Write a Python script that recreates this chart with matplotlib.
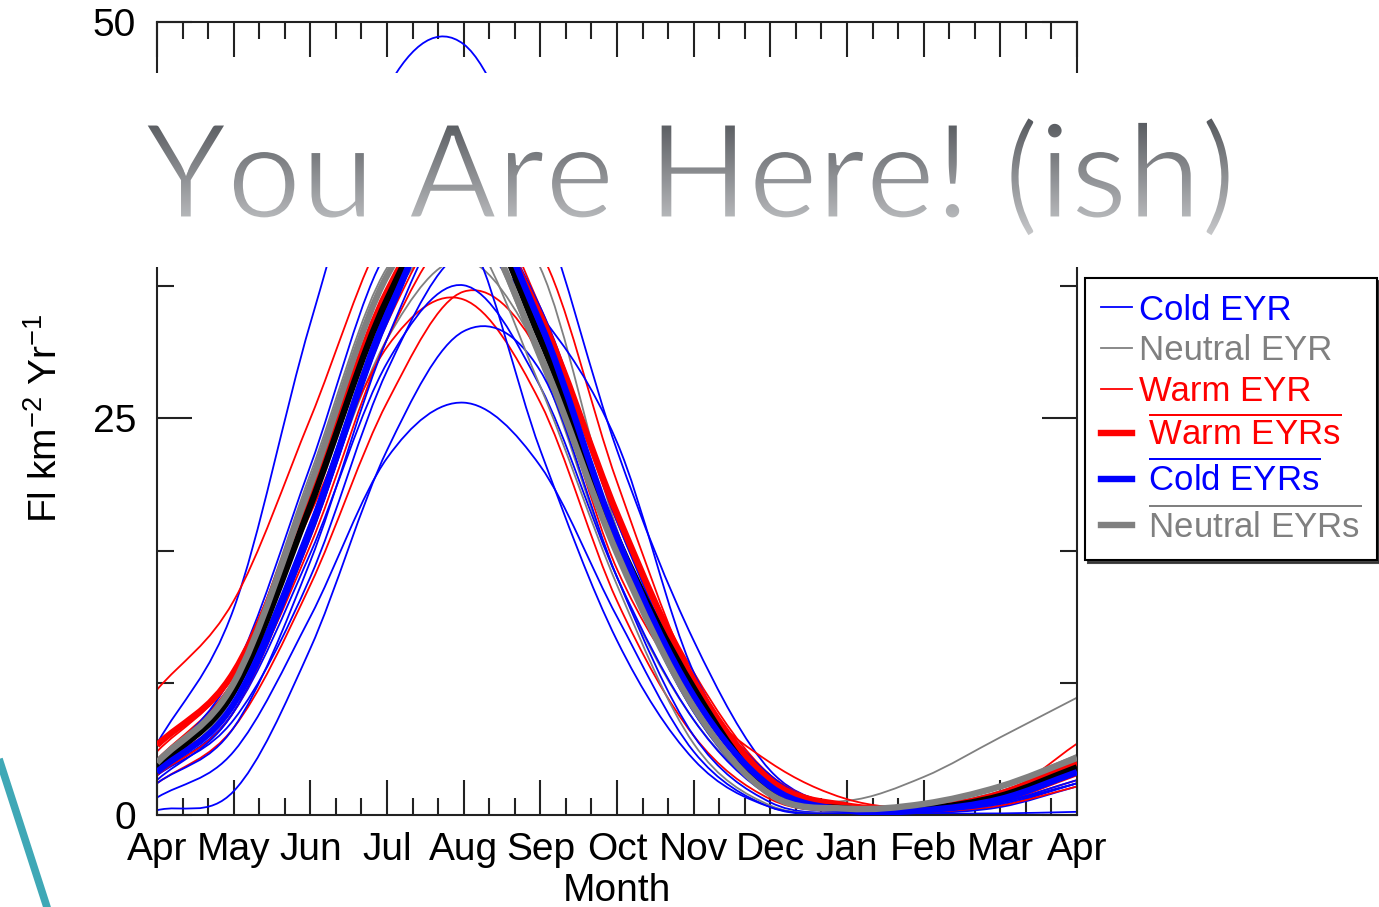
import numpy as np
import matplotlib
matplotlib.use("Agg")
import matplotlib.pyplot as plt
from matplotlib.path import Path
from matplotlib.patches import PathPatch, Rectangle
from matplotlib.lines import Line2D
from matplotlib.textpath import TextPath
from matplotlib.font_manager import FontProperties
from matplotlib.transforms import Affine2D
from matplotlib.colors import LinearSegmentedColormap

W, H = 1379, 907

plt.rcParams['font.family'] = ['Liberation Sans', 'DejaVu Sans']
plt.rcParams['mathtext.fontset'] = 'custom'
plt.rcParams['mathtext.rm'] = 'Liberation Sans'
plt.rcParams['mathtext.it'] = 'Liberation Sans:italic'
plt.rcParams['mathtext.bf'] = 'Liberation Sans:bold'
plt.rcParams['mathtext.sf'] = 'Liberation Sans'

# ---- data: monthly flash rate (Fl km^-2 Yr^-1), April through the following April ----
months = ['Apr', 'May', 'Jun', 'Jul', 'Aug', 'Sep', 'Oct',
          'Nov', 'Dec', 'Jan', 'Feb', 'Mar', 'Apr']
month_pos = np.arange(len(months))

cold_years = [
    [4.5, 13.0, 31.0, 45.8, 48.6, 38.5, 23.0, 11.0, 2.8, 0.5, 0.3, 0.9, 2.6],
    [1.1, 4.0, 12.5, 22.5, 26.0, 22.0, 12.5, 4.0, 0.5, 0.1, 0.1, 0.5, 1.8],
    [0.3, 1.5, 10.5, 23.0, 30.5, 28.0, 15.0, 5.0, 0.8, 0.1, 0.1, 0.1, 0.2],
    [2.5, 6.5, 16.5, 28.5, 33.4, 27.0, 15.0, 6.0, 1.2, 0.2, 0.2, 0.8, 2.2],
    [3.0, 9.0, 22.0, 35.5, 37.0, 23.0, 11.0, 3.5, 0.5, 0.1, 0.1, 0.6, 2.0],
    [2.5, 6.0, 15.0, 28.0, 35.5, 31.5, 23.5, 9.0, 2.5, 0.5, 0.3, 0.8, 2.0],
    [2.2, 6.5, 17.5, 31.0, 39.5, 31.0, 17.0, 7.0, 1.5, 0.2, 0.2, 0.9, 2.6],
    [3.0, 7.5, 18.5, 32.0, 40.5, 30.0, 16.5, 6.5, 1.2, 0.2, 0.3, 1.2, 3.2],
    [2.0, 5.5, 16.0, 30.0, 38.5, 32.0, 18.5, 8.0, 2.0, 0.3, 0.2, 0.7, 2.0],
    [2.6, 7.0, 18.0, 31.5, 39.0, 30.5, 17.5, 7.5, 1.6, 0.3, 0.3, 1.0, 2.8],
]
neutral_years = [
    [3.0, 8.0, 20.0, 33.0, 38.0, 28.5, 15.0, 6.0, 1.5, 0.9, 2.4, 4.9, 7.4],
    [2.8, 7.0, 18.0, 30.0, 35.0, 29.0, 16.5, 6.5, 1.5, 0.3, 0.4, 1.2, 3.0],
    [3.5, 8.5, 21.0, 34.0, 39.0, 34.5, 18.0, 7.0, 1.5, 0.3, 0.5, 1.5, 3.5],
    [3.2, 8.5, 21.5, 34.5, 37.0, 27.0, 14.5, 4.5, 0.6, 0.2, 0.5, 1.5, 3.2],
    [2.5, 7.5, 19.5, 32.0, 36.5, 30.5, 17.5, 7.5, 1.8, 0.5, 0.6, 1.8, 3.8],
]
warm_years = [
    [7.9, 13.5, 25.0, 37.0, 41.0, 32.0, 19.0, 9.0, 2.5, 0.5, 0.3, 1.0, 3.0],
    [3.5, 8.5, 19.0, 29.5, 32.5, 26.0, 13.5, 5.0, 1.0, 0.2, 0.2, 0.8, 2.5],
    [2.0, 5.5, 14.5, 26.0, 33.0, 29.0, 15.5, 7.5, 3.3, 1.0, 0.4, 0.8, 2.2],
    [3.0, 7.0, 17.0, 30.0, 37.5, 35.5, 21.0, 8.5, 2.5, 0.5, 0.3, 1.2, 4.5],
    [4.0, 9.0, 21.0, 34.0, 39.0, 30.0, 17.0, 7.5, 2.0, 0.4, 0.5, 1.5, 3.5],
    [2.5, 6.5, 17.5, 31.0, 38.0, 31.5, 18.5, 8.5, 2.2, 0.3, 0.2, 0.6, 1.8],
]
warm_mean = [4.4, 9.0, 20.0, 33.0, 39.0, 31.5, 19.0, 8.5, 2.2, 0.6, 0.5, 1.3, 3.3]
all_mean = [3.0, 7.8, 19.5, 32.5, 39.5, 30.0, 17.5, 8.0, 1.5, 0.4, 0.4, 1.2, 3.0]
cold_mean = [2.7, 7.0, 18.0, 31.5, 39.5, 31.0, 17.5, 7.5, 1.8, 0.3, 0.3, 1.0, 2.7]
neutral_mean = [3.3, 8.3, 20.8, 34.0, 38.5, 29.0, 16.5, 6.8, 1.3, 0.4, 0.7, 1.8, 3.6]

BLUE, GRAY, RED = '#0000ff', '#808080', '#ff0000'
THIN, THICK = 1.3, 4.6


def smooth_path(x, y):
    """Cubic Bezier path passing through every (x, y) point (Catmull-Rom tangents)."""
    P = np.column_stack([np.asarray(x, float), np.asarray(y, float)])
    E = np.vstack([2 * P[0] - P[1], P, 2 * P[-1] - P[-2]])
    verts, codes = [P[0]], [Path.MOVETO]
    for i in range(len(P) - 1):
        p0, p1, p2, p3 = E[i], E[i + 1], E[i + 2], E[i + 3]
        verts += [p1 + (p2 - p0) / 6.0, p2 - (p3 - p1) / 6.0, p2]
        codes += [Path.CURVE4] * 3
    return Path(verts, codes)


def draw_curve(ax, y, color, lw, z):
    ax.add_patch(PathPatch(smooth_path(month_pos, y), facecolor='none',
                           edgecolor=color, lw=lw, zorder=z,
                           capstyle='butt', joinstyle='round'))


fig = plt.figure(figsize=(W / 100, H / 100), dpi=100)
ax = fig.add_axes([157 / W, 1 - 815 / H, 920 / W, 793 / H])

# individual years, interleaved
for group in zip(cold_years, neutral_years + [None] * 5, warm_years + [None] * 4):
    for y, c in zip(group, (BLUE, GRAY, RED)):
        if y is not None:
            draw_curve(ax, y, c, THIN, 2)
# category means
draw_curve(ax, warm_mean, RED, THICK, 3)
draw_curve(ax, all_mean, 'black', THICK, 3.1)
draw_curve(ax, cold_mean, BLUE, THICK, 3.2)
draw_curve(ax, neutral_mean, GRAY, THICK, 3.3)

ax.set_xlim(0, 12)
ax.set_ylim(0, 50)
ax.set_xticks(month_pos)
ax.set_xticklabels(months)
ax.set_xticks(np.arange(0, 12.001, 1 / 3), minor=True)
ax.set_yticks([0, 25, 50])
ax.set_yticks([50 / 6 * k for k in (1, 2, 4, 5)], minor=True)
ax.tick_params(which='both', direction='in', top=True, right=True,
               width=1.5, color='#222222', labelsize=28)
ax.tick_params(which='major', length=25)
ax.tick_params(which='minor', length=12.5)
ax.tick_params(axis='x', pad=12)
ax.tick_params(axis='y', pad=15)
for sp in ax.spines.values():
    sp.set_linewidth(1.5)
    sp.set_color('#222222')

ax.set_xlabel('Month', fontsize=28)
ax.xaxis.set_label_coords(0.5, -0.073)
ax.set_ylabel(r'Fl km$^{-2}$ Yr$^{-1}$', fontsize=28)
ax.yaxis.set_label_coords(-0.1, 0.5)

# legend
handles = [Line2D([], [], color=BLUE, lw=THIN), Line2D([], [], color=GRAY, lw=THIN),
           Line2D([], [], color=RED, lw=THIN), Line2D([], [], color=RED, lw=THICK),
           Line2D([], [], color=BLUE, lw=THICK), Line2D([], [], color=GRAY, lw=THICK)]
labels = ['Cold EYR', 'Neutral EYR', 'Warm EYR',
          r' $\overline{\mathrm{Warm\ EYRs}}$',
          r' $\overline{\mathrm{Cold\ EYRs}}$',
          r' $\overline{\mathrm{Neutral\ EYRs}}$']
leg = fig.legend(handles, labels, loc='upper left',
                 bbox_to_anchor=(1085 / W, 1 - 278 / H), bbox_transform=fig.transFigure,
                 fontsize=25, frameon=True, fancybox=False, edgecolor='black',
                 framealpha=1, handlelength=0.9, handletextpad=0.2,
                 labelspacing=0.22, borderpad=0.45, borderaxespad=0,
                 labelcolor='linecolor', shadow={'color': '0.2', 'alpha': 0.9})
leg.get_frame().set_linewidth(1.5)

# slide overlay: white band with the heading and the accent stroke
ov = fig.add_axes([0, 0, 1, 1], zorder=5)
ov.axis('off')
ov.patch.set_alpha(0)
ov.add_patch(Rectangle((0, 73), W, 267 - 73, facecolor='white', edgecolor='none', zorder=1))

title = 'You Are Here! (ish)'
fp = FontProperties(family=['Lato', 'DejaVu Sans'])
tp = TextPath((0, 0), title, size=100, prop=fp)
cap_h = TextPath((0, 0), 'H', size=100, prop=fp).get_extents().height
ext = tp.get_extents()
s = 94.0 / cap_h
sx = (1230 - 145) / ext.width
tr = Affine2D().translate(-ext.x0, 0).scale(sx, -s).translate(145, 218) + ov.transData
tpatch = PathPatch(tp, transform=tr, facecolor='none', edgecolor='none')
ov.add_patch(tpatch)
grad = np.linspace(0, 1, 256)[:, None]
cmap = LinearSegmentedColormap.from_list('heading', ['#4e5156', '#d0d1d3'])
im = ov.imshow(grad, cmap=cmap, extent=(0, W, 245, 110), aspect='auto', zorder=3)
im.set_clip_path(tpatch)
# a white outline on the glyphs gives the lighter stroke weight of the heading face
ov.add_patch(PathPatch(tp, transform=tr, facecolor='none', edgecolor='white',
                       lw=2.2, zorder=4))

ov.plot([-5, 50], [746.6, 916.5], color='#3fa8b6', lw=5.5, solid_capstyle='butt', zorder=2)
ov.set_xlim(0, W)
ov.set_ylim(H, 0)

fig.savefig('out.png', dpi=100)
